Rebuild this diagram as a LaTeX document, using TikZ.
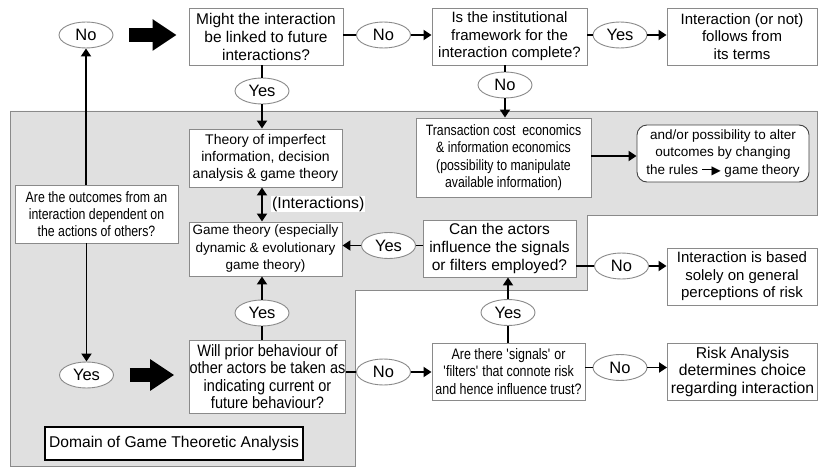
\documentclass[tikz,border=0pt]{standalone}
\usepackage{fontspec}
\setmainfont{Liberation Sans}
\newfontfamily\condfont[FakeStretch=0.88]{Liberation Sans}
\newfontfamily\narrowfont[FakeStretch=0.82]{Liberation Sans}
\newfontfamily\symfont{DejaVu Sans}
\usetikzlibrary{shapes.geometric,arrows.meta}
\definecolor{regiongray}{HTML}{E0E0E0}
\definecolor{edgegray}{HTML}{8A8A8A}
\begin{document}
\begin{tikzpicture}[x=1pt,y=-1pt,
 box/.style={draw=edgegray, line width=0.9pt, fill=white, align=center, inner sep=0pt},
 oval/.style={ellipse, draw=edgegray, line width=0.9pt, fill=white, inner sep=0pt,
   minimum width=54pt, minimum height=26pt, font=\fontsize{16.5}{18}\selectfont},
 conn/.style={line width=1.8pt},
 arr/.style={conn, -{Triangle[length=8pt,width=10pt]}},
 dblarr/.style={conn, {Triangle[length=8pt,width=10pt]}-{Triangle[length=8pt,width=10pt]}},
 bigarr/.style={line width=14pt, -{Triangle[length=24pt,width=30pt]}},
 fA/.style={font=\fontsize{15.5}{18}\selectfont},
 fB/.style={font=\fontsize{15}{17.5}\selectfont},
 fC/.style={font=\fontsize{14}{17}\selectfont},
 fD/.style={font=\fontsize{13.5}{17.5}\selectfont},
 fcond/.style={font=\narrowfont\fontsize{15}{16.7}\selectfont},
]
\useasboundingbox (0,0) rectangle (818,468);
\fill[white] (0,0) rectangle (818,468);

% domain region
\filldraw[fill=regiongray, draw=edgegray, line width=0.8pt]
  (10,111) -- (817,111) -- (817,215) -- (587,215) -- (587,290) -- (355,290)
  -- (355,466) -- (10,466) -- cycle;

% boxes
\node[box, fA, minimum width=154pt, minimum height=57pt] (q1) at (266,36.5)
  {Might the interaction\\be linked to future\\interactions?};
\node[box, fB, minimum width=155pt, minimum height=57pt] (q2) at (509.5,36.5)
  {Is the institutional\\framework for the\\interaction complete?};
\node[box, fB, minimum width=150pt, minimum height=57pt] (r1) at (742,36.5)
  {Interaction (or not)\\follows from\\its terms};
\node[box, fC, minimum width=153pt, minimum height=58pt] (t1) at (265.5,158)
  {Theory of imperfect\\information, decision\\analysis \& game theory};
\node[box, fD, minimum width=153pt, minimum height=54pt] (g1) at (265.5,249)
  {Game theory (especially\\dynamic \& evolutionary\\game theory)};
\node[box, fcond, minimum width=163pt, minimum height=58pt] (a1) at (96.5,214)
  {Are the outcomes from an\\interaction dependent on\\the actions of others?};
\node[box, font=\narrowfont\fontsize{15}{17.3}\selectfont, minimum width=175pt, minimum height=79pt] (tc) at (503.5,157.5)
  {Transaction cost\ \ economics\\\& information economics\\(possibility to manipulate\\available information)};
\node[box, draw=black!75, rounded corners=10pt, fD, minimum width=172pt, minimum height=57pt] (rr) at (723,153.5)
  {and/or possibility to alter\\outcomes by changing\\the rules \rule[0.3em]{11pt}{1.6pt}\kern-1.5pt{\symfont\fontsize{12}{12}\selectfont ▶}\ game theory};
\node[box, fA, minimum width=153pt, minimum height=57pt] (ca) at (499.5,248.5)
  {Can the actors\\influence the signals\\or filters employed?};
\node[box, fB, minimum width=150pt, minimum height=57pt] (ib) at (742,276.5)
  {Interaction is based\\solely on general\\perceptions of risk};
\node[box, font=\condfont\fontsize{16.5}{17.5}\selectfont, minimum width=151pt, minimum height=73pt] (wp) at (267.5,376.5)
  {Will prior behaviour of\\other actors be taken as\\indicating current or\\future behaviour?};
\node[box, font=\narrowfont\fontsize{15.2}{17.5}\selectfont, minimum width=153pt, minimum height=57pt] (as) at (508.5,371.5)
  {Are there \textquotesingle signals\textquotesingle\ or\\\textquotesingle filters\textquotesingle\ that connote risk\\and hence influence trust?};
\node[box, font=\fontsize{15.7}{17.5}\selectfont, minimum width=150pt, minimum height=57pt] (ra) at (742.5,371.5)
  {Risk Analysis\\determines choice\\regarding interaction};
\node[box, draw=black, line width=2pt, font=\fontsize{15.6}{18}\selectfont, minimum width=258pt, minimum height=33pt] (dom) at (174,443.5)
  {Domain of Game Theoretic Analysis};

% ovals
\node[oval] (eno1) at (86,35) {No};
\node[oval] (eno2) at (383.5,35) {No};
\node[oval] (eyes1) at (620,35) {Yes};
\node[oval] (eno3) at (505,85) {No};
\node[oval] (eyes2) at (262,91) {Yes};
\node[oval] (eyes3) at (388.5,245.5) {Yes};
\node[oval] (eno4) at (621.5,266) {No};
\node[oval] (eyes4) at (262,313) {Yes};
\node[oval] (eyes5) at (86.5,375) {Yes};
\node[oval] (eno5) at (383.5,372) {No};
\node[oval] (eyes6) at (508,312.5) {Yes};
\node[oval] (eno6) at (620,367.5) {No};

% connectors
\draw[arr] (a1.north -| eno1) -- (eno1);
\draw[arr] (a1.south -| eyes5) -- (eyes5);
\draw[bigarr, shorten <=16pt, shorten >=12pt] (eno1.east) -- (eno1.east -| q1.west);
\draw[bigarr, shorten <=16pt, shorten >=15pt] (eyes5.east) -- (eyes5.east -| wp.west);

\draw[conn] (q1.east |- eno2) -- (eno2);
\draw[arr] (eno2) -- (q2.west |- eno2);
\draw[conn] (q2.east |- eyes1) -- (eyes1);
\draw[arr] (eyes1) -- (r1.west |- eyes1);
\draw[conn] (q2.south -| eno3) -- (eno3);
\draw[arr] (eno3) -- (tc.north -| eno3);
\draw[conn] (q1.south -| eyes2) -- (eyes2);
\draw[arr] (eyes2) -- (t1.north -| eyes2);
\draw[dblarr] (t1.south -| eyes2) -- (g1.north -| eyes2);
\node[fill=white, inner sep=1pt, anchor=west, font=\fontsize{15.8}{18}\selectfont] (lbl) at (271,204) {(Interactions)};
\draw[arr] (tc.east |- 0,156) -- (rr.west |- 0,156);
\draw[conn] (ca.west |- eyes3) -- (eyes3);
\draw[arr] (eyes3) -- (g1.east |- eyes3);
\draw[conn] (ca.east |- eno4) -- (eno4);
\draw[arr] (eno4) -- (ib.west |- eno4);
\draw[conn] (wp.north -| eyes4) -- (eyes4);
\draw[arr] (eyes4) -- (g1.south -| eyes4);
\draw[conn] (wp.east |- eno5) -- (eno5);
\draw[arr] (eno5) -- (as.west |- eno5);
\draw[conn] (as.north -| eyes6) -- (eyes6);
\draw[arr] (eyes6) -- (ca.south -| eyes6);
\draw[conn] (as.east |- eno6) -- (eno6);
\draw[arr] (eno6) -- (ra.west |- eno6);
\end{tikzpicture}
\end{document}
